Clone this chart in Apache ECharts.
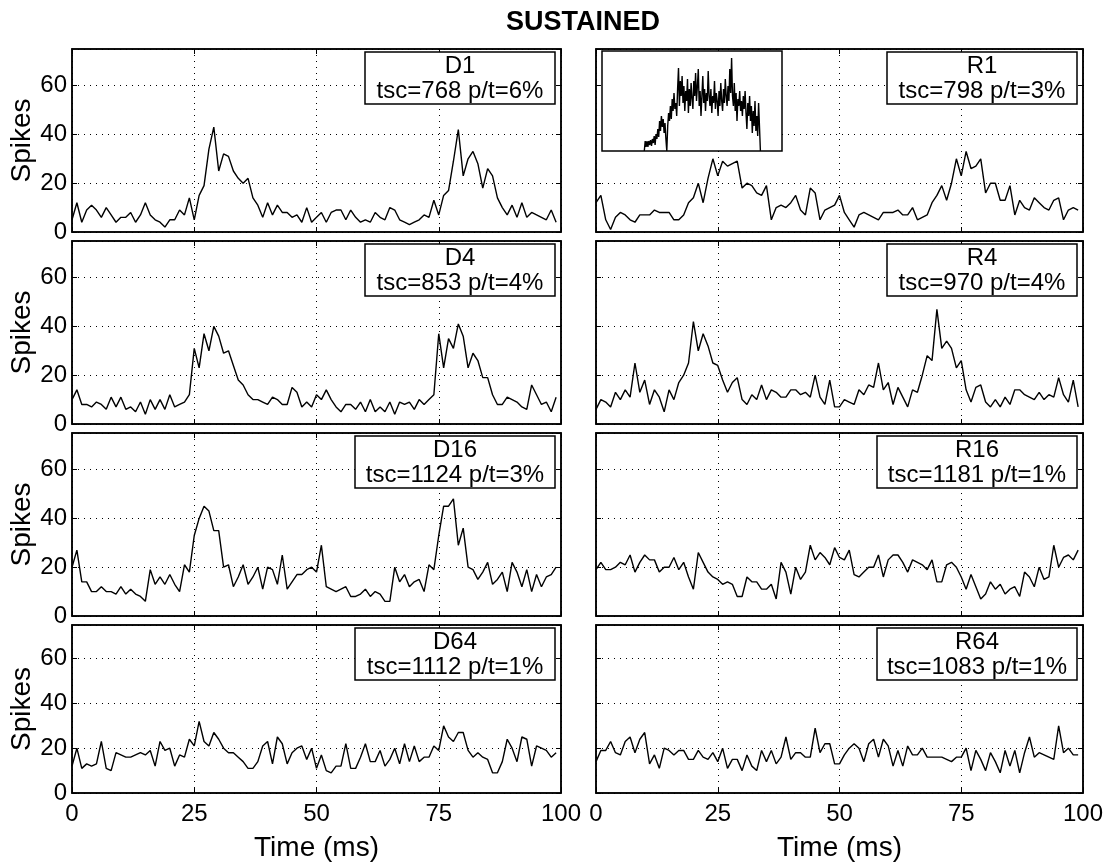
<!DOCTYPE html>
<html><head><meta charset="utf-8">
<script src="https://cdn.jsdelivr.net/npm/echarts@6/dist/echarts.min.js"></script>
<style>html,body{margin:0;padding:0;background:#fff}#c{width:1107px;height:863px}</style>
</head><body><div id="c"></div>
<script>
// ---------- data ----------
const chartTitle = 'SUSTAINED';
const panelNames = ['D1', 'R1', 'D4', 'R4', 'D16', 'R16', 'D64', 'R64'];
const panelStats = ['tsc=768 p/t=6%', 'tsc=798 p/t=3%', 'tsc=853 p/t=4%', 'tsc=970 p/t=4%',
                    'tsc=1124 p/t=3%', 'tsc=1181 p/t=1%', 'tsc=1112 p/t=1%', 'tsc=1083 p/t=1%'];
const xTickValues = [0, 25, 50, 75, 100];
const yTickValues = [0, 20, 40, 60];
const xAxisTitle = 'Time (ms)';
const yAxisTitle = 'Spikes';

const D1 = [5,12,4,9,11,9,6,10,7,4, 6,6,8,4,7,12,7,5,4,2, 5,5,9,7,14,5,15,19,34,43, 25,32,31,25,22,20,22,14,11,6,
            12,7,11,8,8,6,7,4,10,4, 6,8,4,8,9,9,5,9,6,4, 5,4,8,6,5,10,9,5,4,3, 4,5,7,6,13,7,15,17,29,42,
            23,30,33,28,18,26,23,14,10,7, 11,6,12,6,8,7,6,5,9,4];
const R1 = [12,15,5,1,6,8,7,5,4,7, 7,7,9,8,8,8,5,5,7,12, 14,20,12,22,30,23,29,27,28,29, 18,20,19,16,15,19,5,10,11,10,
            12,15,9,7,18,16,5,9,10,11, 15,8,5,2,7,8,7,6,5,8, 8,8,9,7,7,10,5,6,7,12, 15,19,13,20,30,23,33,26,27,30,
            16,20,20,13,13,19,7,13,10,9, 14,12,10,9,13,14,5,9,10,9];
const D4 = [10,14,8,8,7,9,8,6,11,7, 11,6,7,5,9,4,10,6,10,6, 12,7,8,9,12,31,23,37,30,40, 36,29,30,24,18,16,12,10,10,9,
            8,11,10,8,8,15,13,7,9,7, 12,10,14,10,7,5,8,8,6,9, 5,10,5,7,5,9,4,9,8,9, 6,10,8,10,12,37,23,35,31,41,
            36,23,29,26,19,19,12,8,8,11, 10,9,7,6,16,12,8,9,5,11];
const R4 = [6,10,9,7,13,10,14,11,25,13, 18,8,14,11,5,14,10,17,20,25, 42,30,37,32,25,24,18,13,17,19, 10,8,12,10,16,10,14,13,11,11,
            14,14,12,13,11,20,11,8,18,7, 7,10,9,8,14,12,16,15,25,14, 17,8,15,11,7,14,13,20,28,26, 47,31,34,31,23,26,14,9,15,16,
            9,7,10,7,11,8,14,14,12,11, 10,13,10,12,11,19,12,9,18,7];
const D16 = [20,27,14,14,10,10,12,10,10,9, 12,9,11,9,8,6,19,13,16,13, 17,13,10,21,18,33,40,45,43,35, 35,20,21,12,16,21,13,16,20,11,
             20,19,13,25,11,14,17,17,19,20, 18,29,12,11,10,11,12,8,8,9, 11,8,10,9,6,6,20,14,17,12, 14,15,10,21,19,33,45,45,48,29,
             36,20,19,15,18,22,13,15,18,10, 22,18,12,19,10,17,12,16,17,20];
const R16 = [19,22,19,19,20,22,21,25,18,22, 25,23,23,18,20,20,24,19,22,16, 11,26,22,18,16,15,13,14,13,8, 8,16,14,14,11,11,13,7,22,18,
             9,20,15,18,29,23,26,24,21,28, 24,23,27,17,16,18,20,20,25,16, 23,25,25,22,18,23,22,21,19,23, 14,14,21,22,20,16,11,17,12,7,
             9,14,11,13,9,11,12,8,18,16, 12,20,15,16,29,20,24,25,23,27];
const D64 = [12,20,11,13,12,13,23,11,10,18, 17,16,16,17,18,17,19,12,23,19, 20,12,17,16,24,21,32,23,21,27, 24,20,18,18,16,14,11,11,14,21,
             23,13,25,22,13,18,20,21,15,20, 11,17,10,9,12,12,22,11,11,16, 22,14,14,19,12,15,20,13,22,14, 21,14,16,16,21,19,30,25,23,27,
             27,19,16,18,16,15,9,9,14,24, 20,14,25,24,12,21,20,19,16,18];
const R64 = [14,19,19,23,18,17,23,25,18,24, 27,13,17,11,20,19,17,19,19,15, 15,19,16,15,18,14,20,11,15,15, 10,17,12,10,19,14,19,13,16,25,
             15,18,18,16,16,29,18,22,22,13, 13,17,20,22,20,14,22,24,16,24, 21,12,19,12,21,17,17,20,16,16, 16,16,15,14,16,16,20,10,19,15,
             10,18,14,9,19,12,19,9,18,25, 16,18,17,16,15,30,18,20,17,17];
const panelValues = [D1, R1, D4, R4, D16, R16, D64, R64];

// inset of R1 (relative units, 0-100 on both axes), sampled every 0.5 starting at 23.5
const insetStart = 23.5, insetStep = 0.5;
const insetValues = [0,10,4,10,4,10,6,11,5,12,8,15,6,17,12,22,14,30,20,35,24,32,18,28,12,0,25,38,30,45,32,52,40,58,42,48,35,62,83,45,
  70,55,75,48,65,40,60,50,72,38,62,45,68,52,42,70,55,78,50,65,82,45,60,35,55,75,48,62,40,58,50,80,55,45,62,38,55,48,70,42,
  58,50,35,60,45,68,50,40,62,48,72,55,45,65,50,82,58,93,55,45,68,40,58,30,52,45,60,40,50,35,55,42,60,38,22,48,35,55,30,45,
  18,40,25,50,20,35,15,48,50,0];

// ---------- layout ----------
const FONT = '"Liberation Sans", Arial, Helvetica, sans-serif';
const colLeft = [72, 596], colWidth = [489, 487];
const rowTop = [49, 241, 433, 625], rowHeight = 183;
const inset = {left: 602, top: 51, width: 180, height: 100};

const timeBins = D1.map((_, k) => k);
const grids = [], xAxes = [], yAxes = [], series = [], graphics = [];
const black = '#000';
const BW = 1.5;

panelNames.forEach((name, i) => {
  const row = Math.floor(i / 2), col = i % 2;
  const gl = colLeft[col], gw = colWidth[col], gt = rowTop[row];
  grids.push({left: gl, top: gt, width: gw, height: rowHeight, show: true, borderColor: black, borderWidth: BW, backgroundColor: '#fff'});
  const bottomRow = row === 3, leftCol = col === 0;
  xAxes.push({
    gridIndex: i, type: 'value', min: 0, max: 100, interval: 25, position: 'bottom',
    axisLine: {show: true, onZero: false, lineStyle: {color: black, width: BW}},
    axisTick: {show: true, inside: true, length: 5, lineStyle: {color: black}},
    axisLabel: {show: bottomRow, color: black, fontSize: 24, fontFamily: FONT, margin: 9},
    splitLine: {show: true, lineStyle: {color: black, width: 1, type: [1, 5]}},
    name: bottomRow ? xAxisTitle : '', nameLocation: 'middle', nameGap: 41,
    nameTextStyle: {color: black, fontSize: 28, fontFamily: FONT}
  });
  xAxes.push({
    gridIndex: i, type: 'value', min: 0, max: 100, interval: 25, position: 'top',
    axisLine: {show: true, onZero: false, lineStyle: {color: black, width: BW}},
    axisTick: {show: true, inside: true, length: 5, lineStyle: {color: black}},
    axisLabel: {show: false}, splitLine: {show: false}
  });
  yAxes.push({
    gridIndex: i, type: 'value', min: 0, max: 75, interval: 20, position: 'left',
    axisLine: {show: true, onZero: false, lineStyle: {color: black, width: BW}},
    axisTick: {show: true, inside: true, length: 5, lineStyle: {color: black}},
    axisLabel: {show: leftCol, color: black, fontSize: 24, fontFamily: FONT, margin: 5, showMaxLabel: false},
    splitLine: {show: true, lineStyle: {color: black, width: 1, type: [1, 5]}},
    name: leftCol ? yAxisTitle : '', nameLocation: 'middle', nameGap: 30, nameRotate: 90,
    nameTextStyle: {color: black, fontSize: 28, fontFamily: FONT}
  });
  yAxes.push({
    gridIndex: i, type: 'value', min: 0, max: 75, interval: 20, position: 'right',
    axisLine: {show: true, onZero: false, lineStyle: {color: black, width: BW}},
    axisTick: {show: true, inside: true, length: 5, lineStyle: {color: black}},
    axisLabel: {show: false}, splitLine: {show: false}
  });
  series.push({
    type: 'line', xAxisIndex: 2 * i, yAxisIndex: 2 * i, showSymbol: false, symbol: 'none',
    lineStyle: {color: black, width: 1.4}, z: 3,
    data: panelValues[i].map((v, k) => [timeBins[k], v])
  });
  // label box
  const boxW = panelStats[i].length > 14 ? 200 : 190, boxH = 52;
  const bx = gl + gw - 6 - boxW, by = gt + 3;
  graphics.push({type: 'rect', shape: {x: bx, y: by, width: boxW, height: boxH}, z: 50,
    style: {fill: '#fff', stroke: black, lineWidth: BW}});
  graphics.push({type: 'text', x: bx + boxW / 2, y: by + 14, z: 51,
    style: {text: name, fill: black, font: '24px ' + FONT, textAlign: 'center', textVerticalAlign: 'middle'}});
  graphics.push({type: 'text', x: bx + boxW / 2, y: by + 39, z: 51,
    style: {text: panelStats[i], fill: black, font: '24px ' + FONT, textAlign: 'center', textVerticalAlign: 'middle'}});
});

// inset grid (index 8)
grids.push({left: inset.left, top: inset.top, width: inset.width, height: inset.height, show: true,
  borderColor: black, borderWidth: BW, backgroundColor: '#fff', z: 10});
xAxes.push({gridIndex: 8, type: 'value', min: 0, max: 100, z: 11,
  axisLine: {show: false}, axisTick: {show: false}, axisLabel: {show: false}, splitLine: {show: false}});
yAxes.push({gridIndex: 8, type: 'value', min: 0, max: 100, z: 11,
  axisLine: {show: false}, axisTick: {show: false}, axisLabel: {show: false}, splitLine: {show: false}});
series.push({type: 'line', xAxisIndex: 16, yAxisIndex: 16, showSymbol: false, symbol: 'none', z: 12,
  lineStyle: {color: black, width: 1.4},
  data: insetValues.map((v, k) => [insetStart + insetStep * k, v])});

const chart = echarts.init(document.getElementById('c'), null, {renderer: 'canvas'});
chart.setOption({
  animation: false,
  backgroundColor: '#fff',
  title: {text: chartTitle, left: 578, top: 4, textAlign: 'center',
    textStyle: {color: black, fontSize: 27, fontWeight: 'bold', fontFamily: FONT}},
  grid: grids, xAxis: xAxes, yAxis: yAxes, series: series,
  graphic: graphics
});
</script>
</body></html>
